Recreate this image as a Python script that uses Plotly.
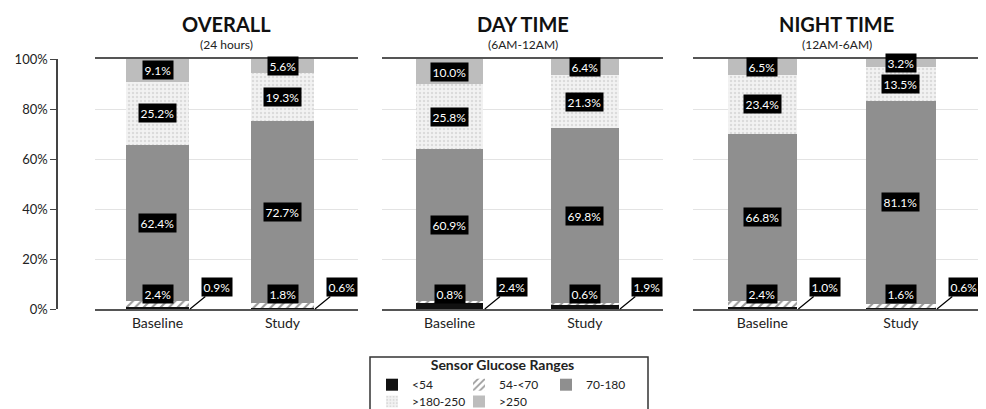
import plotly.graph_objects as go

panels = ["OVERALL", "DAY TIME", "NIGHT TIME"]
subtitles = ["(24 hours)", "(6AM-12AM)", "(12AM-6AM)"]
groups = ["Baseline", "Study"]
range_names = ["<54", "54-<70", "70-180", ">180-250", ">250"]

lt54 = [[0.9, 0.6], [2.4, 1.9], [1.0, 0.6]]
r54_70 = [[2.4, 1.8], [0.8, 0.6], [2.4, 1.6]]
r70_180 = [[62.4, 72.7], [60.9, 69.8], [66.8, 81.1]]
r180_250 = [[25.2, 19.3], [25.8, 21.3], [23.4, 13.5]]
gt250 = [[9.1, 5.6], [10.0, 6.4], [6.5, 3.2]]

y_tickvals = [0, 20, 40, 60, 80, 100]
y_ticktext = ["0%", "20%", "40%", "60%", "80%", "100%"]

series = [lt54, r54_70, r70_180, r180_250, gt250]
FONT = "Lato"

styles = [
    dict(color="#111111", line=dict(width=0)),
    dict(color="white", line=dict(width=0),
         pattern=dict(shape="/", fgcolor="#333333", bgcolor="white", size=6, solidity=0.35)),
    dict(color="#8f8f8f", line=dict(width=0)),
    dict(color="#f0f0f0", line=dict(width=0),
         pattern=dict(shape=".", fgcolor="#c4c4c4", bgcolor="#f2f2f2", size=4, solidity=0.3)),
    dict(color="#bdbdbd", line=dict(width=0)),
]

fig = go.Figure()
for p in range(3):
    xa = "x" if p == 0 else f"x{p+1}"
    for r, name in enumerate(range_names):
        fig.add_trace(go.Bar(
            x=groups, y=series[r][p], name=name, xaxis=xa, yaxis="y",
            marker=styles[r], legendgroup=name, showlegend=(p == 0),
            legend="legend" if r < 3 else "legend2", hoverinfo="skip",
        ))

annotations = []
label_style = dict(bgcolor="black", font=dict(color="white", size=12, family=FONT),
                   borderpad=1.5, showarrow=False)
for p in range(3):
    xref = "x" if p == 0 else f"x{p+1}"
    for i in range(2):
        base = lt54[p][i] + r54_70[p][i]
        for r in (2, 3, 4):
            v = series[r][p][i]
            annotations.append(dict(x=i, y=base + v / 2, xref=xref, yref="y",
                                    text=f"{v:.1f}%", **label_style))
            base += v
        annotations.append(dict(x=i, y=0, xref=xref, yref="y", yanchor="bottom", yshift=5,
                                text=f"{r54_70[p][i]:.1f}%", **label_style))
        annotations.append(dict(x=i + 0.26, y=0, xref=xref, yref="y",
                                text=f"{lt54[p][i]:.1f}%", bgcolor="black",
                                font=dict(color="white", size=12, family=FONT), borderpad=1.5,
                                showarrow=True, arrowhead=0, arrowwidth=1.2, arrowcolor="black",
                                ax=27, ay=-22, standoff=0))
    annotations.append(dict(x=0.5, y=(309 - 24) / 250, xref=f"{xref} domain", yref="paper",
                            yanchor="middle", text=f"<b>{panels[p]}</b>", showarrow=False,
                            font=dict(size=20, color="#111", family=FONT)))
    annotations.append(dict(x=0.5, y=(309 - 45) / 250, xref=f"{xref} domain", yref="paper",
                            yanchor="middle", text=subtitles[p], showarrow=False,
                            font=dict(size=12, color="#222", family=FONT)))

PW = 923.0
def px(v):
    return (v - 57) / PW

def py(v):
    return (309 - v) / 250

xax_common = dict(type="category", showgrid=False, showline=True, linecolor="#555",
                  linewidth=1.5, mirror=True, ticks="", tickfont=dict(size=14, color="#222"),
                  anchor="y", fixedrange=True)

fig.update_layout(
    width=978, height=401,
    margin=dict(l=49, r=6, t=51, b=100, autoexpand=False),
    paper_bgcolor="white", plot_bgcolor="white",
    barmode="stack", bargap=0.5,
    font=dict(family=FONT, color="#222"),
    xaxis=dict(domain=[px(95), px(358)], **xax_common),
    xaxis2=dict(domain=[px(382), px(663)], **xax_common),
    xaxis3=dict(domain=[px(693), px(980)], **xax_common),
    yaxis=dict(range=[0, 100], tickmode="array", tickvals=y_tickvals, ticktext=y_ticktext,
               anchor="free", position=0,
               showline=True, linecolor="#444", linewidth=1.5, ticks="outside", ticklen=6,
               tickcolor="#444", showgrid=True, gridcolor="#e3e3e3", zeroline=False,
               tickfont=dict(size=13, color="#222"), fixedrange=True),
    legend=dict(orientation="h", x=px(372), y=py(352), xanchor="left", yanchor="top",
                title=dict(text="<b>Sensor Glucose Ranges</b>", side="top center",
                           font=dict(size=14, color="#222")),
                entrywidth=42, entrywidthmode="pixels", font=dict(size=12, color="#222"),
                bgcolor="rgba(0,0,0,0)", tracegroupgap=0, traceorder="normal"),
    legend2=dict(orientation="h", x=px(372), y=py(387), xanchor="left", yanchor="top",
                 entrywidth=42, entrywidthmode="pixels", font=dict(size=12, color="#222"),
                 bgcolor="rgba(0,0,0,0)", tracegroupgap=0, traceorder="normal"),
    annotations=annotations,
    shapes=[dict(type="rect", xref="paper", yref="paper", x0=px(370), x1=px(648),
                 y0=py(357), y1=py(420),
                 line=dict(color="#333", width=1.5), fillcolor="rgba(0,0,0,0)", layer="below")],
)

fig.write_html("out.html")
